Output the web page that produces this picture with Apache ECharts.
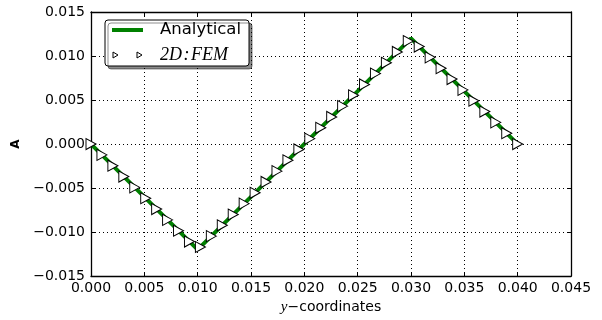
<!DOCTYPE html>
<html>
<head>
<meta charset="utf-8">
<script src="https://cdn.jsdelivr.net/npm/echarts@6/dist/echarts.min.js"></script>
<style>html,body{margin:0;padding:0;background:#fff}#c{width:602px;height:320px}</style>
</head>
<body>
<div id="c"></div>
<script>
// Analytical solution: breakpoints
const analyticalX = [0, 0.01, 0.03, 0.04];
const analyticalY = [0, -0.012, 0.012, 0];

// 2D FEM nodal values
const femX = [0, 0.0010256, 0.0020513, 0.0030769, 0.0041026, 0.0051282, 0.0061538, 0.0071795, 0.0082051, 0.0092308,
  0.0102564, 0.0112821, 0.0123077, 0.0133333, 0.0143590, 0.0153846, 0.0164103, 0.0174359, 0.0184615, 0.0194872,
  0.0205128, 0.0215385, 0.0225641, 0.0235897, 0.0246154, 0.0256410, 0.0266667, 0.0276923, 0.0287179, 0.0297436,
  0.0307692, 0.0317949, 0.0328205, 0.0338462, 0.0348718, 0.0358974, 0.0369231, 0.0379487, 0.0389744, 0.04];
const femY = [0, -0.0012308, -0.0024615, -0.0036923, -0.0049231, -0.0061538, -0.0073846, -0.0086154, -0.0098462, -0.0110769,
  -0.0116923, -0.0104615, -0.0092308, -0.008, -0.0067692, -0.0055385, -0.0043077, -0.0030769, -0.0018462, -0.0006154,
  0.0006154, 0.0018462, 0.0030769, 0.0043077, 0.0055385, 0.0067692, 0.008, 0.0092308, 0.0104615, 0.0116923,
  0.0110769, 0.0098462, 0.0086154, 0.0073846, 0.0061538, 0.0049231, 0.0036923, 0.0024615, 0.0012308, 0];

const xMin = 0, xMax = 0.045, xStep = 0.005;
const yMin = -0.015, yMax = 0.015, yStep = 0.005;

const fmt = v => (v < -1e-12 ? '\u2212' : '') + Math.abs(v).toFixed(3);
const FONT = 'DejaVu Sans';

const chart = echarts.init(document.getElementById('c'), null, {renderer: 'canvas'});
const tick = {show: true, inside: true, length: 4, lineStyle: {color: '#000', width: 1}};
const axLine = {show: true, onZero: false, lineStyle: {color: '#000', width: 1.3}};
const grid = {type: [1, 3], color: '#000', width: 1};

chart.setOption({
  animation: false,
  backgroundColor: '#fff',
  grid: {left: 91, right: 31, top: 12, bottom: 39, containLabel: false},
  legend: {
    orient: 'vertical',
    left: 105, top: 20,
    padding: [1, 8, 2, 7],
    itemGap: 7,
    itemWidth: 31,
    itemHeight: 6,
    backgroundColor: '#fff',
    borderColor: '#000',
    borderWidth: 1,
    borderRadius: 3,
    shadowColor: 'rgba(0,0,0,0.45)',
    shadowOffsetX: 3,
    shadowOffsetY: 3,
    shadowBlur: 0,
    data: [
      {name: 'Analytical', icon: 'path://M0,0L31,0L31,4L0,4Z', itemStyle: {color: '#008000', borderWidth: 0}},
      {name: '2D:FEM', icon: 'path://M1,0L6,3L1,6Z M25,0L30,3L25,6Z',
       itemStyle: {color: '#fff', borderColor: '#000', borderWidth: 1}}
    ],
    textStyle: {
      fontFamily: FONT, fontSize: 16.5, color: '#000', lineHeight: 18, padding: [0, 0, 0, 12],
      rich: {it: {fontFamily: 'Liberation Serif', fontStyle: 'italic', fontSize: 18, color: '#000', lineHeight: 18}}
    },
    formatter: n => n === '2D:FEM' ? '{it|2D\u200A:\u200AFEM}' : n
  },
  xAxis: [{
    type: 'value', min: xMin, max: xMax, interval: xStep, position: 'bottom',
    axisLine: axLine, axisTick: tick, splitLine: {show: true, lineStyle: grid},
    axisLabel: {fontFamily: FONT, fontSize: 14, color: '#000', margin: 5, formatter: fmt},
    name: '{i|y}\u2212coordinates', nameLocation: 'middle', nameGap: 21,
    nameTextStyle: {fontFamily: FONT, fontSize: 14, color: '#000',
      rich: {i: {fontFamily: 'Liberation Serif', fontStyle: 'italic', fontSize: 15, color: '#000'}}}
  }, {
    type: 'value', min: xMin, max: xMax, interval: xStep, position: 'top',
    axisLine: axLine, axisTick: tick, splitLine: {show: false}, axisLabel: {show: false}
  }],
  yAxis: [{
    type: 'value', min: yMin, max: yMax, interval: yStep, position: 'left',
    axisLine: axLine, axisTick: tick, splitLine: {show: true, lineStyle: grid},
    axisLabel: {fontFamily: FONT, fontSize: 14, color: '#000', margin: 6, formatter: fmt},
    name: 'A', nameLocation: 'middle', nameGap: 61, nameRotate: 90,
    nameTextStyle: {fontFamily: FONT, fontSize: 12, fontWeight: 'bold', color: '#000'}
  }, {
    type: 'value', min: yMin, max: yMax, interval: yStep, position: 'right',
    axisLine: axLine, axisTick: tick, splitLine: {show: false}, axisLabel: {show: false}
  }],
  series: [{
    name: 'Analytical', type: 'line',
    data: analyticalX.map((x, i) => [x, analyticalY[i]]),
    showSymbol: false, symbol: 'none',
    lineStyle: {color: '#008000', width: 4},
    itemStyle: {color: '#008000'},
    z: 2
  }, {
    name: '2D:FEM', type: 'scatter',
    data: femX.map((x, i) => [x, femY[i]]),
    symbol: 'triangle', symbolRotate: -90, symbolSize: [11, 10],
    itemStyle: {color: '#ffffff', borderColor: '#000', borderWidth: 1, opacity: 1},
    z: 5
  }]
});
</script>
</body>
</html>
